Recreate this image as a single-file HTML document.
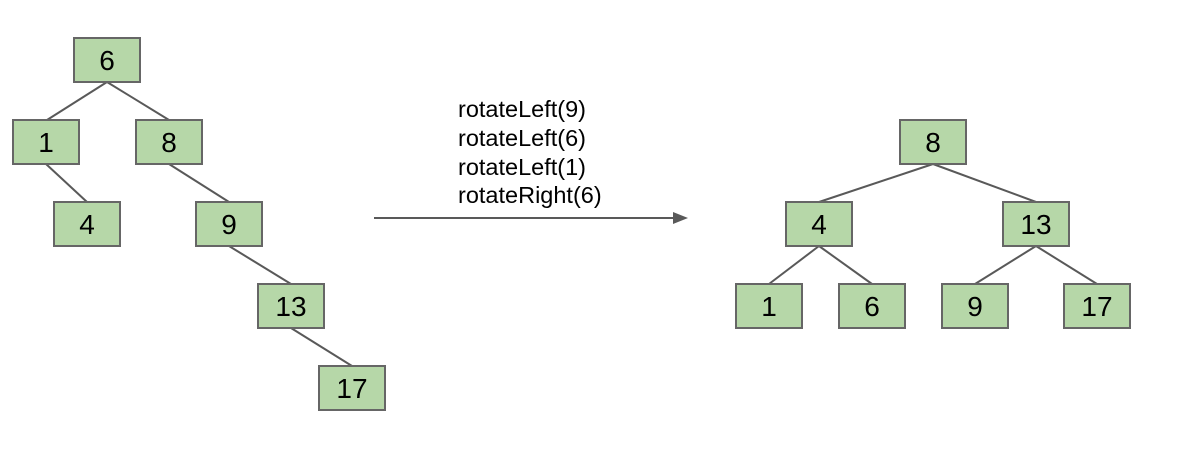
<!DOCTYPE html>
<html><head><meta charset="utf-8"><style>html,body{margin:0;padding:0;background:#fff;}</style></head><body>
<svg width="1178" height="456" xmlns="http://www.w3.org/2000/svg" font-family="Liberation Sans, Arial, sans-serif">
<g stroke="#595959" stroke-width="2">
<line x1="107" y1="82" x2="47" y2="120"/>
<line x1="107" y1="82" x2="169" y2="120"/>
<line x1="46" y1="164" x2="87" y2="202"/>
<line x1="169" y1="164" x2="229" y2="202"/>
<line x1="229" y1="246" x2="291" y2="284"/>
<line x1="291" y1="328" x2="352" y2="366"/>
<line x1="933" y1="164" x2="819" y2="202"/>
<line x1="933" y1="164" x2="1036" y2="202"/>
<line x1="819" y1="246" x2="769" y2="284"/>
<line x1="819" y1="246" x2="872" y2="284"/>
<line x1="1036" y1="246" x2="975" y2="284"/>
<line x1="1036" y1="246" x2="1097" y2="284"/>
<line x1="374" y1="218" x2="675" y2="218"/>
</g>
<polygon points="673,212 688,218 673,224" fill="#595959"/>
<g fill="#b6d7a8" stroke="#666666" stroke-width="2">
<rect x="74" y="38" width="66" height="44"/>
<rect x="13" y="120" width="66" height="44"/>
<rect x="136" y="120" width="66" height="44"/>
<rect x="54" y="202" width="66" height="44"/>
<rect x="196" y="202" width="66" height="44"/>
<rect x="258" y="284" width="66" height="44"/>
<rect x="319" y="366" width="66" height="44"/>
<rect x="900" y="120" width="66" height="44"/>
<rect x="786" y="202" width="66" height="44"/>
<rect x="1003" y="202" width="66" height="44"/>
<rect x="736" y="284" width="66" height="44"/>
<rect x="839" y="284" width="66" height="44"/>
<rect x="942" y="284" width="66" height="44"/>
<rect x="1064" y="284" width="66" height="44"/>
</g>
<g font-size="28" text-anchor="middle" fill="#000">
<text x="107" y="70">6</text>
<text x="46" y="152">1</text>
<text x="169" y="152">8</text>
<text x="87" y="234">4</text>
<text x="229" y="234">9</text>
<text x="291" y="316">13</text>
<text x="352" y="398">17</text>
<text x="933" y="152">8</text>
<text x="819" y="234">4</text>
<text x="1036" y="234">13</text>
<text x="769" y="316">1</text>
<text x="872" y="316">6</text>
<text x="975" y="316">9</text>
<text x="1097" y="316">17</text>
</g>
<g font-size="23.5" fill="#000">
<text x="458" y="117">rotateLeft(9)</text>
<text x="458" y="146">rotateLeft(6)</text>
<text x="458" y="175">rotateLeft(1)</text>
<text x="458" y="203">rotateRight(6)</text>
</g>
</svg>
</body></html>
